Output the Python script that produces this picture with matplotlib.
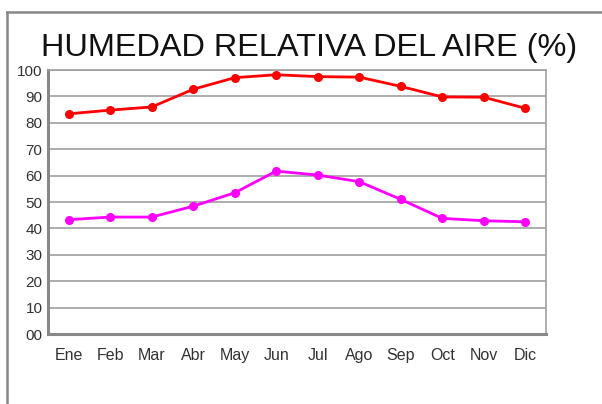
import matplotlib
matplotlib.use('Agg')
import matplotlib.pyplot as plt
from matplotlib.lines import Line2D

plt.rcParams['font.family'] = ['Liberation Sans', 'DejaVu Sans']

# data
meses = ['Ene', 'Feb', 'Mar', 'Abr', 'May', 'Jun', 'Jul', 'Ago', 'Sep', 'Oct', 'Nov', 'Dic']
hum_max = [83.4, 84.8, 86.0, 92.7, 97.1, 98.2, 97.5, 97.3, 93.8, 89.8, 89.7, 85.5]
hum_min = [43.3, 44.3, 44.3, 48.4, 53.5, 61.7, 60.2, 57.7, 51.0, 43.8, 42.9, 42.5]
yticks = list(range(0, 101, 10))
ylabels = ['00'] + [str(v) for v in yticks[1:]]

W, H = 602, 404
fig = plt.figure(figsize=(W / 100, H / 100), dpi=100)
ax = fig.add_axes([48 / W, 1 - 334 / H, (546 - 48) / W, (334 - 70) / H])

x = range(len(meses))
ax.plot(x, hum_max, color='#ff0000', lw=2, marker='o', ms=5.5, zorder=3)
ax.plot(x, hum_min, color='#ff00ff', lw=2, marker='o', ms=5.5, zorder=3)

ax.set_xlim(-0.5, len(meses) - 0.5)
ax.set_ylim(0, 100)
ax.set_yticks(yticks)
ax.set_yticklabels(ylabels, fontsize=11, color='#333333')
ax.set_xticks(list(x))
ax.set_xticklabels(meses, fontsize=11.5, color='#333333')
ax.tick_params(axis='both', length=0, pad=4)
ax.tick_params(axis='x', pad=10)
ax.grid(axis='y', color='#a0a0a0', lw=1.2)
ax.set_axisbelow(True)
for s in ['top', 'right']:
    ax.spines[s].set_color('#a0a0a0')
    ax.spines[s].set_linewidth(1.2)
for s in ['left', 'bottom']:
    ax.spines[s].set_color('#888888')
    ax.spines[s].set_linewidth(2.2)

fig.text(309 / W, 1 - 56 / H, 'HUMEDAD RELATIVA DEL AIRE (%)', ha='center',
         va='baseline', fontsize=23.4, color='#111111')

# outer frame (top and left edges)
fig.add_artist(Line2D([7 / W, 1], [1 - 12 / H, 1 - 12 / H], color='#888888', lw=1.8,
                      transform=fig.transFigure))
fig.add_artist(Line2D([7 / W, 7 / W], [0, 1 - 12 / H], color='#888888', lw=1.8,
                      transform=fig.transFigure))

fig.savefig('out.png', dpi=100)
